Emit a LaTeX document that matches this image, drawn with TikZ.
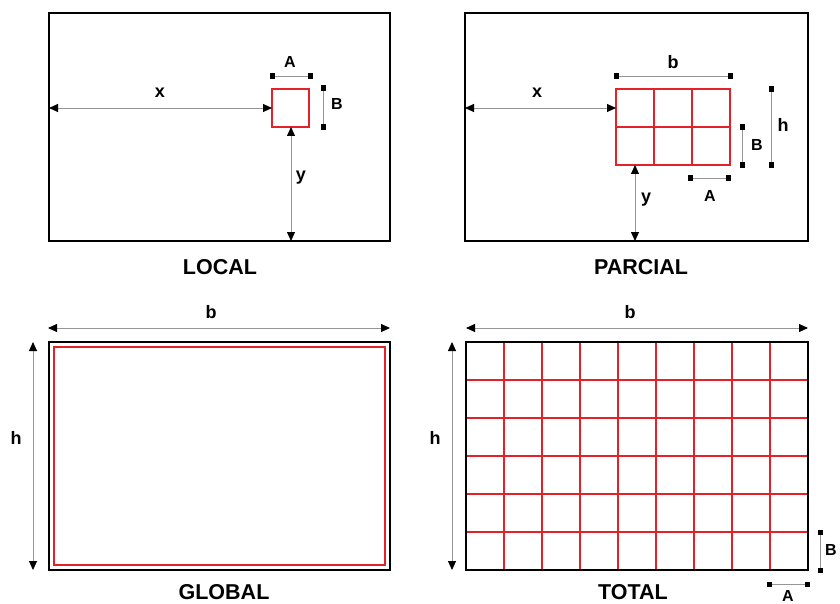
\documentclass[tikz,border=0pt]{standalone}
\usepackage{fontspec}
\setmainfont{Liberation Sans}
\usetikzlibrary{arrows.meta}
\definecolor{gridred}{RGB}{226,34,40}
\definecolor{dimgray}{RGB}{150,150,150}
\begin{document}
\begin{tikzpicture}[x=1pt,y=-1pt,
  frame/.style={draw=black,line width=2pt},
  cell/.style={draw=gridred,line width=1.7pt},
  dimarrow/.style={draw=dimgray,line width=0.9pt,
    {Triangle[length=9pt,width=8pt,color=black]}-{Triangle[length=9pt,width=8pt,color=black]}},
  dimbar/.style={draw=dimgray,line width=0.9pt,
    {Square[length=5pt,width=5pt,color=black]}-{Square[length=5pt,width=5pt,color=black]}},
  lbl/.style={font=\bfseries\fontsize{18}{18}\selectfont,inner sep=0pt},
  caplbl/.style={font=\bfseries\fontsize{16}{16}\selectfont,inner sep=0pt},
  title/.style={font=\bfseries\fontsize{21.5}{21.5}\selectfont,inner sep=0pt}]
\useasboundingbox (0,0) rectangle (840,604);

% local
\draw[cell] (272,89) rectangle (309,127);
\draw[frame] (49,13) rectangle (390,241);
\coordinate (lx0) at (49,108);
\coordinate (lx1) at (272,108);
\coordinate (ly0) at (291,127);
\coordinate (ly1) at (291,241);
\coordinate (lA0) at (269.5,76);
\coordinate (lA1) at (312.5,76);
\coordinate (lB0) at (323,85.5);
\coordinate (lB1) at (323,129.5);
\draw[dimarrow] (lx0) -- (lx1);
\draw[dimarrow] (ly0) -- (ly1);
\draw[dimbar] (lA0) -- (lA1);
\draw[dimbar] (lB0) -- (lB1);
\node[lbl] (lxl) at (160,93) {x};
\node[lbl] (lyl) at (301,178) {y};
\node[caplbl] (lAl) at (290,62) {A};
\node[caplbl] (lBl) at (337,104) {B};
\node[title] (tlocal) at (220,267) {LOCAL};

% parcial
\foreach \i in {0,1,2}
  \foreach \j in {0,1}
    \draw[cell] ({616+38*\i},{89+38*\j}) rectangle ++(38,38);
\draw[frame] (465,13) rectangle (808,241);
\coordinate (px0) at (465,108);
\coordinate (px1) at (616,108);
\coordinate (py0) at (635,165);
\coordinate (py1) at (635,241);
\coordinate (pb0) at (613.5,76);
\coordinate (pb1) at (732.5,76);
\coordinate (ph0) at (771,86.5);
\coordinate (ph1) at (771,167.5);
\coordinate (pB0) at (742,124.5);
\coordinate (pB1) at (742,167.5);
\coordinate (pA0) at (687.5,178);
\coordinate (pA1) at (730.5,178);
\draw[dimarrow] (px0) -- (px1);
\draw[dimarrow] (py0) -- (py1);
\draw[dimbar] (pb0) -- (pb1);
\draw[dimbar] (ph0) -- (ph1);
\draw[dimbar] (pB0) -- (pB1);
\draw[dimbar] (pA0) -- (pA1);
\node[lbl] (pxl) at (537,93) {x};
\node[lbl] (pyl) at (646,200) {y};
\node[lbl] (pbl) at (673,62) {b};
\node[lbl] (phl) at (783,125) {h};
\node[caplbl] (pBl) at (757,145) {B};
\node[caplbl] (pAl) at (710,196) {A};
\node[title] (tparcial) at (641,267) {PARCIAL};

% global
\draw[cell] (54,347) rectangle (385,565);
\draw[frame] (49,342) rectangle (390,570);
\coordinate (gb0) at (48,328);
\coordinate (gb1) at (390,328);
\coordinate (gh0) at (33,342);
\coordinate (gh1) at (33,570);
\draw[dimarrow] (gb0) -- (gb1);
\draw[dimarrow] (gh0) -- (gh1);
\node[lbl] (gbl) at (211,312) {b};
\node[lbl] (ghl) at (16,438) {h};
\node[title] (tglobal) at (224,592) {GLOBAL};

% total
\foreach \i in {0,...,8}
  \foreach \j in {0,...,5}
    \draw[cell] ({466+38*\i},{342+38*\j}) rectangle ++(38,38);
\draw[frame] (466,342) rectangle (808,570);
\coordinate (tb0) at (466,328);
\coordinate (tb1) at (808,328);
\coordinate (th0) at (452,342);
\coordinate (th1) at (452,570);
\coordinate (tB0) at (820,529.5);
\coordinate (tB1) at (820,572.5);
\coordinate (tA0) at (766.5,584);
\coordinate (tA1) at (809.5,584);
\draw[dimarrow] (tb0) -- (tb1);
\draw[dimarrow] (th0) -- (th1);
\draw[dimbar] (tB0) -- (tB1);
\draw[dimbar] (tA0) -- (tA1);
\node[lbl] (tbl) at (630,312) {b};
\node[lbl] (thl) at (435,438) {h};
\node[caplbl] (tBl) at (831,550) {B};
\node[caplbl] (tAl) at (788,596) {A};
\node[title] (ttotal) at (633,592) {TOTAL};
\end{tikzpicture}
\end{document}
